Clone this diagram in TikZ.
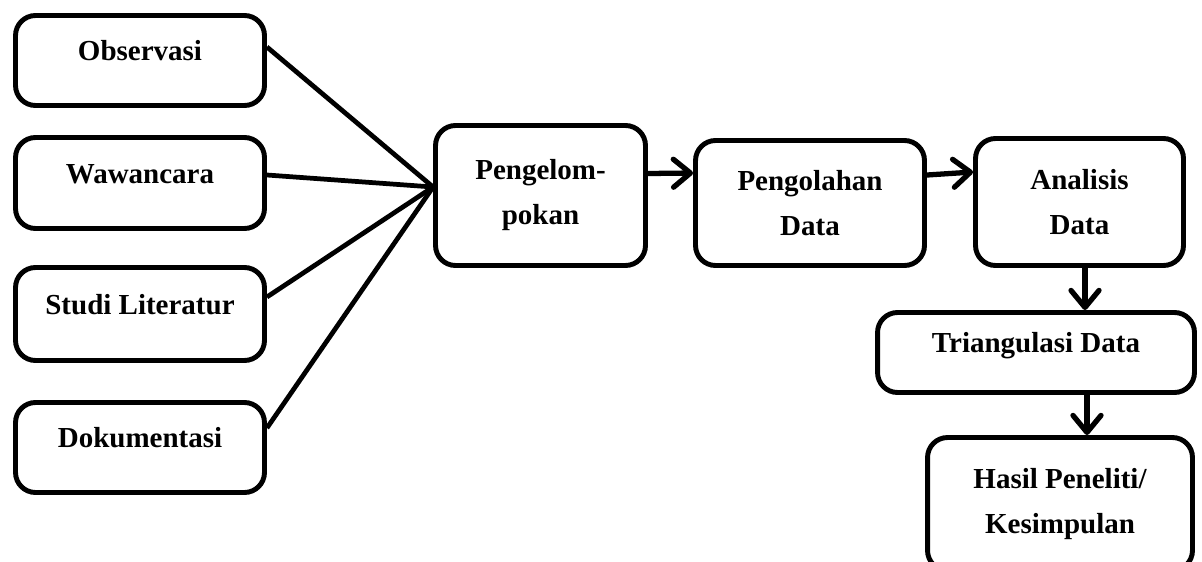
\documentclass[tikz,border=0pt]{standalone}
\usepackage{fontspec}
\setmainfont{Liberation Serif}
\usepackage{tikz}
\usetikzlibrary{arrows.meta, positioning, calc}

\begin{document}
\begin{tikzpicture}[x=0.02cm, y=-0.02cm,
        kotak/.style={draw, line width=2.8pt, rounded corners=0.4cm, align=center,
            font=\fontsize{16.5}{25.6}\selectfont\bfseries},
        satu/.style={text height=0.4cm, text depth=0.4cm},
        kiri/.style={kotak, satu, minimum width=4.98cm},
        garis/.style={line width=2.7pt},
        panah/.style={line width=3pt, -{Straight Barb[length=0.34cm, width=0.56cm, round]}}]
        % Ukuran halaman
        \useasboundingbox (0,0) rectangle (1202,561);

        % Kotak sumber data di sebelah kiri
        \node[kiri, minimum height=1.8cm] (obs) at (140,60.5) {Observasi};
        \node[kiri, minimum height=1.82cm] (waw) at (140,183) {Wawancara};
        \node[kiri, minimum height=1.86cm] (studi) at (140,314) {Studi Literatur};
        \node[kiri, minimum height=1.8cm] (dok) at (140,447.5) {Dokumentasi};

        % Kotak proses
        \node[kotak, minimum width=4.2cm, minimum height=2.8cm] (peng) at (540.5,195.5) {Pengelom-\\pokan};
        \node[kotak, minimum width=4.58cm, minimum height=2.5cm] (olah) at (810,203) {Pengolahan\\Data};
        \node[kotak, minimum width=4.16cm, minimum height=2.54cm] (anal) at (1079.5,202) {Analisis\\Data};
        \node[kotak, satu, minimum width=6.34cm, minimum height=1.6cm] (tri) at (1036,352.5) {Triangulasi Data};
        \node[kotak, minimum width=5.3cm, minimum height=2.66cm] (hasil) at (1060,504) {Hasil Peneliti/\\Kesimpulan};

        % Garis dari sumber data ke pengelompokan
        \coordinate (hub) at ([yshift=0.17cm]peng.west);
        \draw[garis] ([yshift=0.27cm]obs.east) -- (hub);
        \draw[garis] ([yshift=0.16cm]waw.east) -- (hub);
        \draw[garis] ([yshift=0.34cm]studi.east) -- (hub);
        \draw[garis] ([yshift=0.39cm]dok.east) -- (hub);

        % Panah antar proses
        \draw[panah] ([yshift=0.44cm]peng.east) -- ([yshift=0.6cm]olah.west);
        \draw[panah] ([yshift=0.56cm]olah.east) -- ([yshift=0.6cm]anal.west);
        \coordinate (a1) at ([xshift=0.11cm]anal.south);
        \draw[panah] (a1) -- (a1 |- tri.north);
        \coordinate (a2) at ([xshift=1.02cm]tri.south);
        \draw[panah] (a2) -- (a2 |- hasil.north);
    \end{tikzpicture}
\end{document}
